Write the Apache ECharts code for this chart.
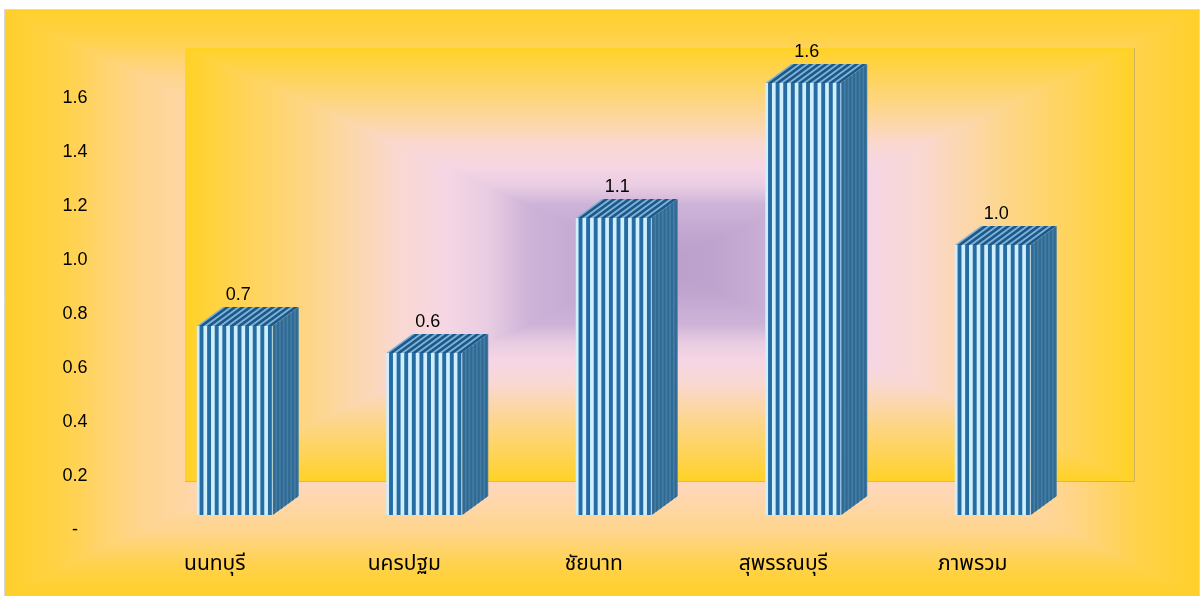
<!DOCTYPE html>
<html><head><meta charset="utf-8">
<style>html,body{margin:0;padding:0;background:#fff}#c{width:1201px;height:596px}</style>
<script src="https://cdn.jsdelivr.net/npm/echarts@6/dist/echarts.min.js"></script>
</head><body><div id="c"></div>
<script>
const categories = ['นนทบุรี','นครปฐม','ชัยนาท','สุพรรณบุรี','ภาพรวม'];
const values = [0.7,0.6,1.1,1.6,1.0];
const valueLabels = ['0.7','0.6','1.1','1.6','1.0'];

const FONT = '"Liberation Sans", Arial, sans-serif';
const THAI = '"Noto Sans", "Noto Sans Thai", "DejaVu Sans", sans-serif';

function lg(dir, stops){
  const g = {type:'linear',x:0,y:0,x2:0,y2:0,colorStops:stops.map(s=>({offset:s[0],color:s[1]}))};
  if(dir==='r') g.x2=1; if(dir==='l') g.x=1; if(dir==='d') g.y2=1; if(dir==='u') g.y=1;
  return g;
}
function rectGradient(x0,y0,x1,y1,cx,cy,stops,z){
  return [
    {type:'rect',z,silent:true,shape:{x:x0,y:y0,width:x1-x0,height:cy-y0},style:{fill:lg('d',stops)}},
    {type:'rect',z,silent:true,shape:{x:x0,y:cy-0.5,width:x1-x0,height:y1-cy+0.5},style:{fill:lg('u',stops)}},
    {type:'polygon',z:z+0.1,silent:true,shape:{points:[[x0,y0],[cx,cy],[x0,y1]]},style:{fill:lg('r',stops)}},
    {type:'polygon',z:z+0.1,silent:true,shape:{points:[[x1,y0],[cx,cy],[x1,y1]]},style:{fill:lg('l',stops)}}
  ];
}
const outerStops=[[0,'#FFD02A'],[0.1,'#FFD24A'],[0.22,'#FFD58C'],[0.35,'#FED7B4'],[0.55,'#FBD8D0'],[1,'#F8D8E4']];
const wallStops=[[0,'#FFD226'],[0.1,'#FFD34E'],[0.28,'#FDD68E'],[0.45,'#FAD8D2'],[0.55,'#F6D6E4'],[0.64,'#E8CCE2'],[0.72,'#CFB4D9'],[0.88,'#BFA4CF'],[1,'#B99FCB']];
const backdrop=[].concat(
  [{type:'rect',z:-10,silent:true,shape:{x:4.5,y:9.5,width:1195,height:590},style:{fill:'#fff',stroke:'#D6DADF',lineWidth:1}}],
  rectGradient(5,10,1199,596,602,303,outerStops,-9),
  rectGradient(185,48,1134,481,660,265,wallStops,-8),
  [{type:'polyline',z:-7,silent:true,shape:{points:[[1134.5,48],[1134.5,481.5],[185,481.5]]},style:{fill:null,stroke:'rgba(150,140,110,0.45)',lineWidth:1}}]
);

const STRIPES=10, SIDE_STRIPES=7, BAR_W=76, DX=26, DY=-19;
function poly(pts,fill){return {type:'polygon',shape:{points:pts},style:{fill}};}
function renderBar(params,api){
  const i=api.value(0), v=api.value(1);
  const top=api.coord([i,v]), base=api.coord([i,0]);
  const x0=top[0]-BAR_W/2, x1=x0+BAR_W, yt=top[1], yb=base[1];
  const kids=[];
  const per=BAR_W/STRIPES;
  kids.push(poly([[x0,yt],[x1,yt],[x1,yb],[x0,yb]],'#CFEFFF'));
  for(let k=0;k<STRIPES;k++){
    const a=x0+2.8+k*per,b=a+3.9;
    kids.push(poly([[a,yt],[b,yt],[b,yb],[a,yb]],'#266BA1'));
  }
  kids.push(poly([[x0,yt],[x1,yt],[x1+DX,yt+DY],[x0+DX,yt+DY]],'#7FB2D8'));
  for(let k=0;k<STRIPES;k++){
    const a=x0+2.6+k*per,b=a+4.4;
    kids.push(poly([[a,yt],[b,yt],[b+DX,yt+DY],[a+DX,yt+DY]],'#1C5888'));
  }
  kids.push(poly([[x1,yt],[x1+DX,yt+DY],[x1+DX,yb+DY],[x1,yb]],'#457CA3'));
  const sp=DX/SIDE_STRIPES;
  for(let k=0;k<SIDE_STRIPES;k++){
    const a=k*sp+0.6,b=a+sp*0.55;
    const f=t=>t*DY/DX;
    kids.push(poly([[x1+a,yt+f(a)],[x1+b,yt+f(b)],[x1+b,yb+f(b)],[x1+a,yb+f(a)]],'#2F6A94'));
  }
  kids.push({type:'text',z2:5,style:{x:top[0]+3.5,y:yt-30.5,text:valueLabels[i],fill:'#000',
    font:'18px '+FONT,align:'center',verticalAlign:'middle'}});
  return {type:'group',children:kids};
}

const chart=echarts.init(document.getElementById('c'),null,{renderer:'canvas'});
chart.setOption({
  animation:false,
  backgroundColor:'#fff',
  graphic:{elements:backdrop},
  grid:[{left:140,right:113.5,top:83,height:432},{left:140,right:113.5,top:98,height:432}],
  xAxis:[
    {type:'category',data:categories,axisLine:{show:false},axisTick:{show:false},
     axisLabel:{color:'#000',fontSize:21,fontFamily:THAI,margin:39,padding:[0,40,0,0],interval:0}},
    {type:'category',gridIndex:1,show:false,data:categories}
  ],
  yAxis:[
    {type:'value',min:0,max:1.6,interval:0.2,show:false},
    {type:'value',gridIndex:1,min:0,max:1.6,interval:0.2,axisLine:{show:false},axisTick:{show:false},splitLine:{show:false},
     axisLabel:{color:'#000',fontSize:18,fontFamily:FONT,margin:65,align:'center',
       formatter:v=>v===0?'-':v.toFixed(1)}}
  ],
  series:[{type:'custom',renderItem:renderBar,clip:false,encode:{x:0,y:1},
    data:values.map((v,i)=>[i,v])}]
});
</script></body></html>
